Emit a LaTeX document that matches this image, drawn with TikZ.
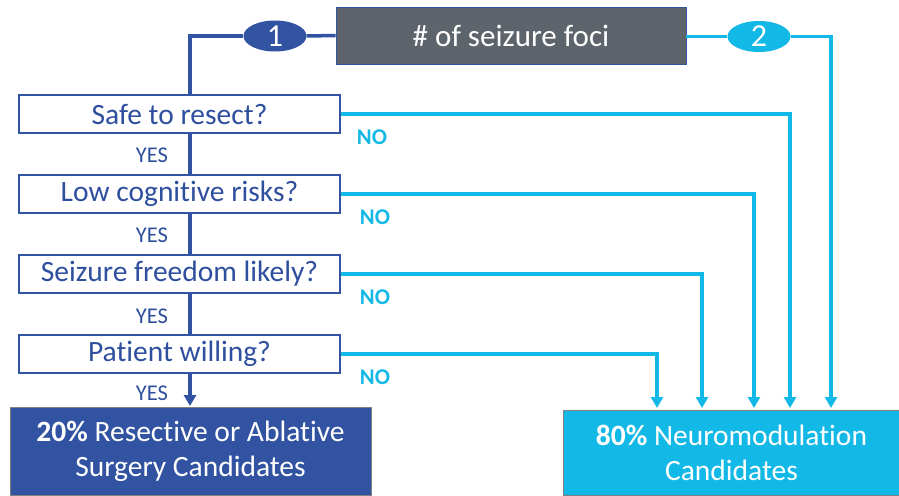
\documentclass[tikz,border=0pt]{standalone}
\usepackage{fontspec}
\setmainfont{Carlito}[Ligatures=NoCommon]
\usetikzlibrary{arrows.meta,shapes.geometric}
\definecolor{dblue}{HTML}{3153A2}
\definecolor{tblue}{HTML}{2E4F9E}
\definecolor{cyanc}{HTML}{12B8E6}
\definecolor{grayc}{HTML}{5E646B}
\begin{document}
\begin{tikzpicture}[x=1pt,y=-1pt,
  qbox/.style={draw=dblue, line width=1.2pt, fill=white, minimum width=321pt, minimum height=38pt, inner sep=0pt, text=tblue, font=\fontsize{29.5}{32}\selectfont},
  bl/.style={draw=dblue, line width=3.5pt},
  cy/.style={draw=cyanc, line width=3.5pt},
  tip/.style={-{Triangle[width=12pt,length=11pt]}},
  yeslab/.style={text=tblue, font=\fontsize{22.5}{24}\selectfont},
  nolab/.style={text=cyanc, font=\bfseries\fontsize{22.5}{24}\selectfont},
  numell/.style={ellipse, minimum width=63pt, minimum height=31pt, inner sep=0pt, text=white, font=\fontsize{32}{32}\selectfont}
]
\useasboundingbox (0,0) rectangle (899,495);
\fill[white] (0,0) rectangle (899,495);

% top
\node[draw=dblue, line width=0.8pt, fill=grayc, minimum width=350pt, minimum height=57pt, inner sep=0pt, text=white, font=\fontsize{31}{32}\selectfont] (top) at (511,35.5) {\# of seizure foci};
\node[numell, fill=dblue] (e1) at (275,36) {1};
\node[numell, fill=cyanc] (e2) at (759,36.5) {2};

% questions
\node[qbox] (q1) at (179.5,114) {Safe to resect?};
\node[qbox] (q2) at (179.5,194) {Low cognitive risks?};
\node[qbox] (q3) at (179.5,274) {Seizure freedom likely?};
\node[qbox] (q4) at (179.5,354) {Patient willing?};

% outcomes
\node[fill=dblue, draw=gray, line width=0.6pt, minimum width=361pt, minimum height=88pt, inner sep=0pt, text=white, align=center, font=\fontsize{29.5}{35}\selectfont] (L) at (190.5,451) {\textbf{20\%} Resective or Ablative\\Surgery Candidates};
\node[fill=cyanc, draw=gray, line width=0.6pt, minimum width=337pt, minimum height=85pt, inner sep=0pt, text=white, align=center, font=\fontsize{29.5}{35}\selectfont] (R) at (731.5,452.5) {\textbf{80\%} Neuromodulation\\Candidates};

% coordinates
\coordinate (c1) at (190,36);
\coordinate (aL) at (190,406);
\coordinate (a1) at (790,408);
\coordinate (a2) at (754,408);
\coordinate (a3) at (702,408);
\coordinate (a4) at (657,408);
\coordinate (a5) at (831,408);

% blue path
\draw[bl] (top.west) -- (e1.east);
\draw[bl] (e1.west) -- (c1) -- (c1 |- q1.north);
\draw[bl] (q1.south -| c1) -- (q2.north -| c1);
\draw[bl] (q2.south -| c1) -- (q3.north -| c1);
\draw[bl] (q3.south -| c1) -- (q4.north -| c1);
\draw[bl, tip] (q4.south -| c1) -- (aL);

% cyan paths
\draw[cy] (top.east |- e2.west) -- (e2.west);
\draw[cy, tip] (e2.east) -| (a5);
\draw[cy, tip] (q1.east) -| (a1);
\draw[cy, tip] (q2.east) -| (a2);
\draw[cy, tip] (q3.east) -| (a3);
\draw[cy, tip] (q4.east) -| (a4);

% labels
\node[yeslab] (y1) at (152,155) {YES};
\node[yeslab] (y2) at (152,235) {YES};
\node[yeslab] (y3) at (152,316) {YES};
\node[yeslab] (y4) at (152,393) {YES};
\node[nolab] (n1) at (372,137) {NO};
\node[nolab] (n2) at (375,217) {NO};
\node[nolab] (n3) at (375,297) {NO};
\node[nolab] (n4) at (375,377) {NO};
\end{tikzpicture}
\end{document}
